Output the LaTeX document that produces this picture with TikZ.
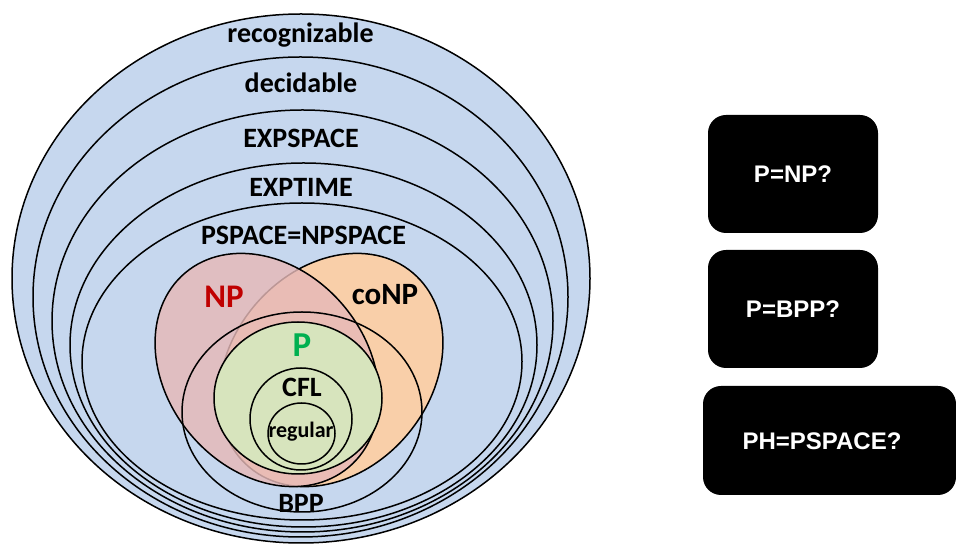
\documentclass[tikz,border=0pt]{standalone}
\usepackage{fontspec}
\newfontfamily\calfont{Carlito}
\newfontfamily\arfont{Liberation Sans}
\definecolor{bluefill}{HTML}{C6D7EE}
\definecolor{npfill}{HTML}{E6B9B8}
\definecolor{conpfill}{HTML}{F9CFA9}
\definecolor{pfill}{HTML}{D7E4BD}
\definecolor{npred}{HTML}{C00000}
\definecolor{pgreen}{HTML}{00B050}
\begin{document}
\begin{tikzpicture}[x=1pt,y=1pt,line width=1.5pt,
  ring/.style={draw=black,fill=bluefill},
  lbl/.style={font=\calfont\bfseries\fontsize{28}{30}\selectfont,anchor=base,inner sep=0pt},
  qbox/.style={fill=black,rounded corners=18pt,minimum width=170pt,minimum height=118pt,text=white,
    font=\arfont\bfseries\fontsize{24}{28}\selectfont}]
\useasboundingbox (0,0) rectangle (956,546);
% nested classes
\draw[ring] (301,267.5) ellipse [x radius=289, y radius=264.5];
\draw[ring] (300.5,249) ellipse [x radius=267.5, y radius=240];
\draw[ring] (302.5,225) ellipse [x radius=250.5, y radius=211];
\draw[ring] (303.5,201) ellipse [x radius=233.5, y radius=182];
\draw[ring] (302,184.5) ellipse [x radius=220, y radius=158.5];
% coNP and NP
\draw[fill=conpfill,rotate around={-40:(331,176)}] (331,176) ellipse [x radius=100, y radius=127];
\draw[fill=npfill,fill opacity=0.82,rotate around={40:(267,176)}] (267,176) ellipse [x radius=100, y radius=127];
% P
\draw[fill=pfill] (298,148) ellipse [x radius=84, y radius=76];
% BPP
\draw (302,134) ellipse [x radius=120, y radius=100];
% CFL, regular
\draw (301,127) ellipse [x radius=51, y radius=51];
\draw (301.5,112.5) ellipse [x radius=33.5, y radius=30.5];
% labels
\node[lbl] (lrec) at (300.5,503) {recognizable};
\node[lbl] (ldec) at (301,453) {decidable};
\node[lbl] (lexps) at (301,398) {EXPSPACE};
\node[lbl] (lexpt) at (301,349) {EXPTIME};
\node[lbl] (lpsp) at (303.5,301) {PSPACE=NPSPACE};
\node[lbl,text=npred,font=\calfont\bfseries\fontsize{33}{35}\selectfont] (lnp) at (224,238) {NP};
\node[lbl,font=\calfont\bfseries\fontsize{31}{33}\selectfont] (lconp) at (385,241) {coNP};
\node[lbl,text=pgreen,font=\calfont\bfseries\fontsize{35}{37}\selectfont] (lp) at (302,189) {P};
\node[lbl] (lcfl) at (302,149) {CFL};
\node[lbl,font=\calfont\bfseries\fontsize{22}{24}\selectfont] (lreg) at (301,108) {regular};
\node[lbl] (lbpp) at (301,33) {BPP};
% question boxes
\node[qbox] (q1) at (793,372) {P=NP?};
\node[qbox] (q2) at (793,237) {P=BPP?};
\node[qbox,minimum width=253pt,minimum height=109pt] (q3box) at (829.5,105.5) {};
\node[text=white,font=\arfont\bfseries\fontsize{24}{28}\selectfont] (q3) at (822,105) {PH=PSPACE?};
\end{tikzpicture}
\end{document}
